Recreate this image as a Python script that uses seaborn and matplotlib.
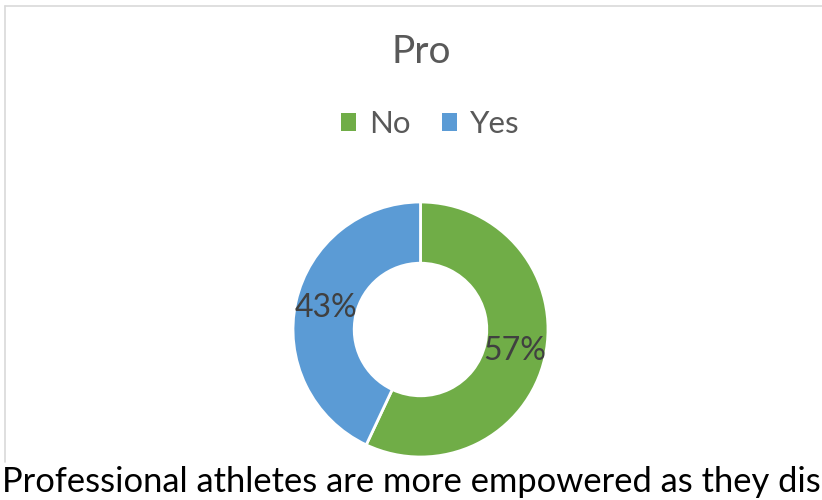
import matplotlib
matplotlib.use("Agg")
import matplotlib.pyplot as plt
import seaborn as sns
from matplotlib.patches import Patch
from matplotlib.lines import Line2D

labels = ["No", "Yes"]
values = [57, 43]
colors = ["#70AD47", "#5B9BD5"]
title = "Pro"
caption = "Professional athletes are more empowered as they dis"

sns.set_theme(style="white")
plt.rcParams["font.family"] = ["Lato", "DejaVu Sans"]

W, H = 822, 500
fig = plt.figure(figsize=(W / 100, H / 100), dpi=100)
fig.patch.set_facecolor("white")

# donut axes, placed in pixel terms
cx, cy, r = 420.5, 329.5, 127.5
ax = fig.add_axes([(cx - r) / W, (H - cy - r) / H, 2 * r / W, 2 * r / H])
wedges, _, autotexts = ax.pie(
    values, colors=colors, startangle=90, counterclock=False,
    autopct=lambda p: f"{p:.0f}%", pctdistance=0.76, radius=1,
    wedgeprops=dict(width=0.48, edgecolor="white", linewidth=2),
    textprops=dict(color="#404040", fontsize=23),
)
ax.set_xlim(-1, 1)
ax.set_ylim(-1, 1)
ax.set_aspect("equal")
ax.axis("off")

# chart frame (light gray)
fig.add_artist(Line2D([5 / W, 5 / W], [1 - 6 / H, 1 - 462 / H], color="#D9D9D9", lw=1.2))
fig.add_artist(Line2D([5 / W, 1], [1 - 6 / H, 1 - 6 / H], color="#D9D9D9", lw=1.2))

fig.text(421 / W, 1 - 52 / H, title, ha="center", va="center", fontsize=28, color="#595959")

handles = [Patch(facecolor=c, edgecolor="none") for c in colors]
fig.legend(handles, labels, loc="center", bbox_to_anchor=(430 / W, 1 - 124 / H),
           ncol=2, frameon=False, fontsize=22.5, labelcolor="#595959",
           handlelength=0.5, handleheight=0.5, handletextpad=0.4, columnspacing=1.0)

fig.text(2 / W, 1 - 482 / H, caption, ha="left", va="center", fontsize=24.8, color="black")

fig.savefig("out.png", dpi=100)
